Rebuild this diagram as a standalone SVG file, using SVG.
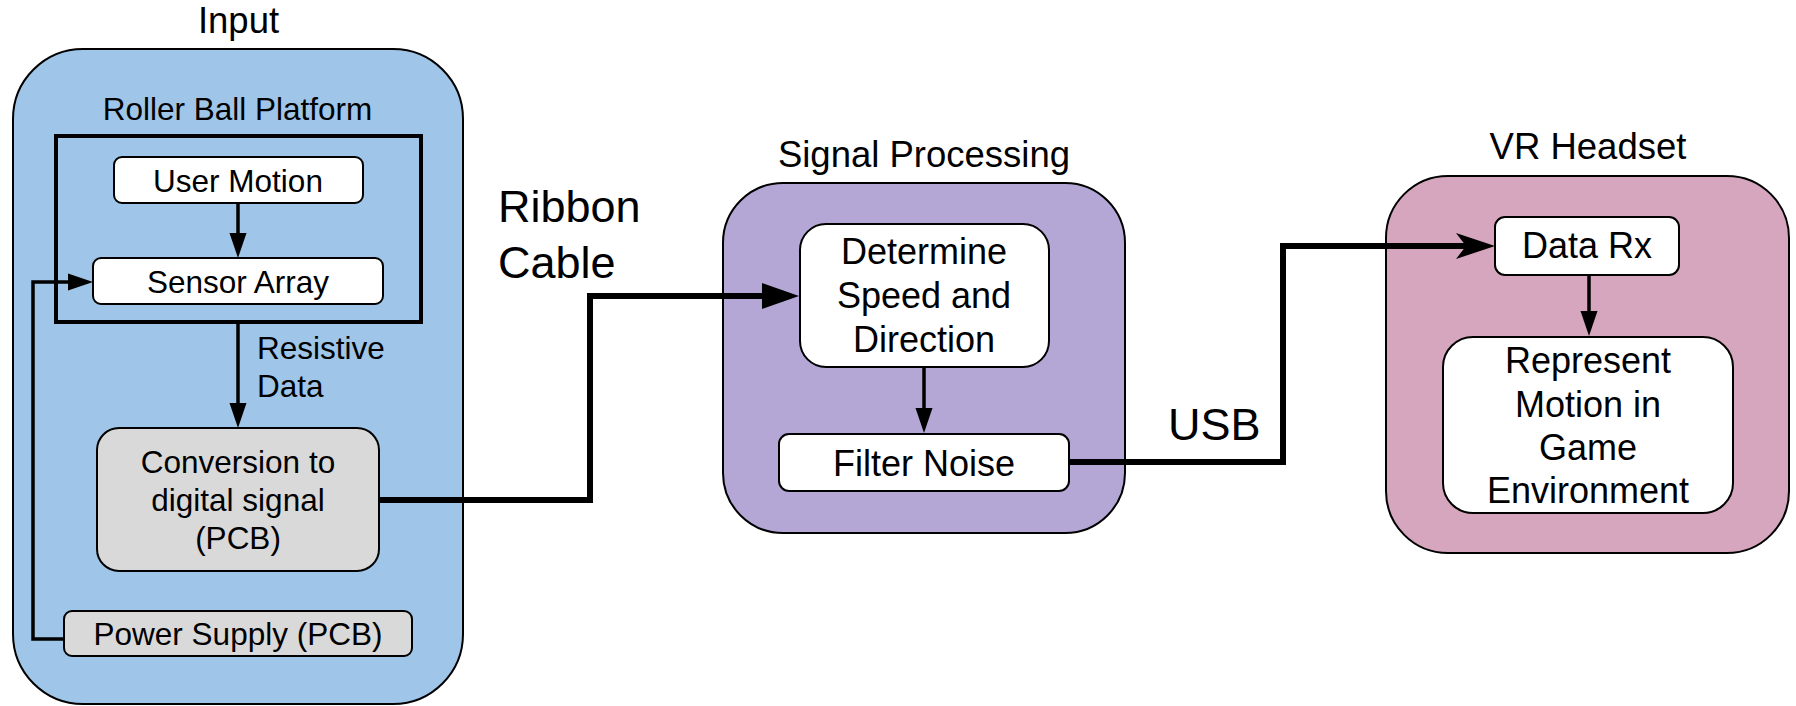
<svg xmlns="http://www.w3.org/2000/svg" width="1796" height="706" viewBox="0 0 1796 706">
  <style>
    text { font-family: "Liberation Sans", Arial, sans-serif; fill: #000; }
    .title { font-size: 36.5px; text-anchor: middle; }
    .lbl-l { font-size: 31.5px; text-anchor: middle; }
    .lbl-r { font-size: 36px; text-anchor: middle; }
    .edge-big { font-size: 45px; }
    .edge-sm { font-size: 31.5px; }
    .group-box { stroke: #000; stroke-width: 2; }
    .box { fill: #fff; stroke: #000; stroke-width: 2; }
    .box.gray { fill: #d9d9d9; }
    .wire { fill: none; stroke: #000; stroke-linejoin: miter; }
    .thin { stroke-width: 3.5; }
    .thick { stroke-width: 6; }
  </style>
  <defs>
    <marker id="arrowS" markerUnits="userSpaceOnUse" markerWidth="26" markerHeight="20" refX="1" refY="9" orient="auto" overflow="visible">
      <path d="M0,0.5 L25,9 L0,17.5 Z" fill="#000"/>
    </marker>
    <marker id="arrowL" markerUnits="userSpaceOnUse" markerWidth="38" markerHeight="28" refX="1" refY="13" orient="auto" overflow="visible">
      <path d="M0,0 L37,13 L0,26 Z" fill="#000"/>
    </marker>
    <marker id="arrowC" markerUnits="userSpaceOnUse" markerWidth="40" markerHeight="28" refX="10" refY="13" orient="auto" overflow="visible">
      <path d="M0,0 L39,13 L0,26 L10,13 Z" fill="#000"/>
    </marker>
  </defs>

  <!-- Input group -->
  <g id="input">
    <text class="title" x="238.5" y="33">Input</text>
    <rect class="group-box" x="13" y="49" width="450" height="655" rx="70" ry="70" fill="#9fc5e8"/>
  </g>

  <g id="roller-ball-platform">
    <text class="lbl-l" x="237.5" y="120">Roller Ball Platform</text>
    <rect x="56" y="136" width="365" height="186" fill="none" stroke="#000" stroke-width="4"/>
  </g>

  <g id="user-motion">
    <rect class="box" x="114" y="157" width="249" height="46" rx="8"/>
    <text class="lbl-l" x="238" y="192">User Motion</text>
  </g>

  <g id="sensor-array">
    <rect class="box" x="93" y="258" width="290" height="46" rx="8"/>
    <text class="lbl-l" x="238" y="293">Sensor Array</text>
  </g>

  <g id="conversion">
    <rect class="box gray" x="97" y="428" width="282" height="143" rx="22"/>
    <text class="lbl-l" x="238" y="473">Conversion to</text>
    <text class="lbl-l" x="238" y="511">digital signal</text>
    <text class="lbl-l" x="238" y="549">(PCB)</text>
  </g>

  <g id="power-supply">
    <rect class="box gray" x="64" y="611" width="348" height="45" rx="8"/>
    <text class="lbl-l" x="238" y="645">Power Supply (PCB)</text>
  </g>

  <!-- Signal Processing group -->
  <g id="signal-processing">
    <text class="title" x="924" y="167">Signal Processing</text>
    <rect class="group-box" x="723" y="183" width="402" height="350" rx="60" ry="60" fill="#b4a7d6"/>
  </g>

  <g id="determine">
    <rect class="box" x="800" y="224" width="249" height="143" rx="26"/>
    <text class="lbl-r" x="924" y="264">Determine</text>
    <text class="lbl-r" x="924" y="308">Speed and</text>
    <text class="lbl-r" x="924" y="352">Direction</text>
  </g>

  <g id="filter-noise">
    <rect class="box" x="779" y="434" width="290" height="57" rx="10"/>
    <text class="lbl-r" x="924" y="476">Filter Noise</text>
  </g>

  <!-- VR Headset group -->
  <g id="vr-headset">
    <text class="title" x="1588" y="159">VR Headset</text>
    <rect class="group-box" x="1386" y="176" width="403" height="377" rx="62" ry="62" fill="#d5a6bd"/>
  </g>

  <g id="data-rx">
    <rect class="box" x="1495" y="217" width="184" height="58" rx="10"/>
    <text class="lbl-r" x="1587" y="258">Data Rx</text>
  </g>

  <g id="represent">
    <rect class="box" x="1443" y="337" width="290" height="176" rx="30"/>
    <text class="lbl-r" x="1588" y="373">Represent</text>
    <text class="lbl-r" x="1588" y="417">Motion in</text>
    <text class="lbl-r" x="1588" y="460">Game</text>
    <text class="lbl-r" x="1588" y="503">Environment</text>
  </g>

  <!-- Connectors -->
  <g id="connectors">
    <path class="wire thin" d="M238,203 V234" marker-end="url(#arrowS)"/>
    <path class="wire thin" d="M64,639 H33 V282 H69" marker-end="url(#arrowS)"/>
    <path class="wire thin" d="M238,322 V404" marker-end="url(#arrowS)"/>
    <path class="wire thick" d="M379,500 H590 V296 H763" marker-end="url(#arrowL)"/>
    <path class="wire thin" d="M924,367 V409" marker-end="url(#arrowS)"/>
    <path class="wire thick" d="M1069,462 H1283 V246 H1466" marker-end="url(#arrowC)"/>
    <path class="wire thin" d="M1589,275 V312" marker-end="url(#arrowS)"/>
  </g>

  <!-- Connector labels -->
  <g id="connector-labels">
    <text class="edge-sm" x="257" y="359">Resistive</text>
    <text class="edge-sm" x="257" y="397">Data</text>
    <text class="edge-big" x="498" y="222">Ribbon</text>
    <text class="edge-big" x="498" y="278">Cable</text>
    <text class="edge-big" x="1168" y="440" font-size="44">USB</text>
  </g>
</svg>
